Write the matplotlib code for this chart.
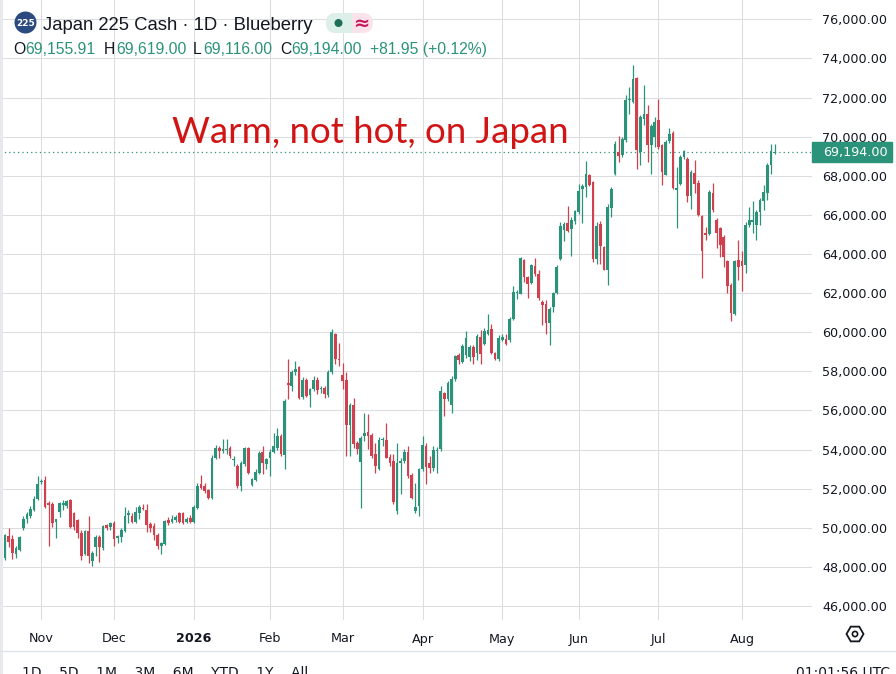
import matplotlib
matplotlib.use('Agg')
import matplotlib.pyplot as plt
import matplotlib.transforms as mtransforms
from matplotlib.patches import Circle, FancyBboxPatch, Rectangle, RegularPolygon
import numpy as np
import pandas as pd

# daily candles, 20 Oct 2025 .. 14 Aug 2026
opens = [48440, 49580, 49400, 48660, 48860, 49970, 50420, 50590, 50900, 51490,
         52350, 52420, 51270, 51190, 50290, 50810, 51150, 51100, 51400, 50730,
         50390, 49750, 48660, 49830, 48300, 49000, 49510, 48950, 50120, 50050,
         50250, 49460, 49540, 49850, 50640, 50590, 50300, 50760, 51000, 50930,
         50190, 50080, 49630, 49070, 49170, 50390, 50300, 50390, 50730, 50730,
         50300, 50520, 50300, 51000, 52220, 52130, 51930, 51540, 53580, 54090,
         53940, 53980, 54090, 53480, 53160, 52140, 53240, 54090, 52170, 52440,
         52820, 53870, 53240, 53580, 53870, 54090, 54690, 53700, 57410, 57240,
         57960, 58210, 56690, 57580, 56770, 57070, 57580, 57070, 57160, 56770,
         57960, 59930, 58620, 57790, 57580, 55230, 56300, 54350, 53360, 54690,
         54900, 54720, 53750, 52990, 54470, 54490, 53630, 53410, 50860, 53290,
         53410, 53870, 52680, 50860, 51120, 52990, 54180, 53290, 53070, 53920,
         54010, 56870, 56560, 56300, 57620, 58810, 58470, 58810, 58750, 59220,
         58920, 59760, 59420, 59930, 60140, 58950, 58610, 59590, 59630, 59590,
         60650, 62000, 61970, 63670, 62820, 62520, 63370, 62990, 61550, 61460,
         60480, 61290, 62010, 63750, 65230, 65570, 65280, 65680, 66130, 67320,
         67410, 68050, 67660, 63750, 65540, 64380, 63160, 66340, 68100, 69210,
         69040, 69810, 71860, 71780, 73010, 69210, 70920, 71180, 69550, 69970,
         70840, 69550, 68050, 69760, 70200, 67280, 67590, 68960, 68840, 66990,
         68150, 67650, 65950, 65060, 65030, 67140, 65740, 65320, 64890, 63620,
         62430, 60950, 63700, 63620, 63450, 65490, 65660, 65490, 66170, 66730,
         67140, 68550, 69155.91]
highs = [49700, 49970, 49630, 49070, 49580, 50590, 50810, 51100, 51630, 52630,
         52500, 52630, 51350, 51300, 50470, 51320, 51400, 51440, 51490, 50810,
         50470, 49880, 49900, 50590, 48800, 49630, 49630, 50140, 50200, 50300,
         50340, 49630, 49970, 51070, 50930, 50730, 51070, 51150, 51200, 51200,
         50300, 50220, 49710, 49280, 50390, 50560, 50640, 50640, 50810, 50810,
         50560, 50640, 51150, 52300, 52680, 52300, 52000, 53700, 54210, 54180,
         54520, 54520, 54180, 53670, 53240, 53410, 54150, 54120, 52560, 52990,
         53920, 54180, 53580, 54010, 54860, 55110, 54770, 56560, 58640, 58090,
         58520, 58260, 57720, 57670, 57160, 57750, 57720, 57240, 57240, 58050,
         60140, 59960, 59460, 58430, 57960, 56390, 56650, 54430, 54690, 55850,
         55800, 54860, 54350, 54660, 54660, 55370, 53750, 53750, 54310, 53540,
         54010, 54180, 52780, 52310, 53070, 54690, 54350, 53670, 54180, 54110,
         57240, 56940, 57500, 57750, 58850, 58940, 59420, 60050, 59370, 59340,
         59930, 60100, 60190, 60920, 60440, 59000, 59840, 59890, 59890, 60790,
         62350, 62140, 63840, 63750, 62900, 63500, 63810, 63160, 61640, 61640,
         61290, 62060, 63420, 65620, 65620, 66470, 65880, 66250, 67580, 67580,
         68760, 68080, 67750, 65620, 65710, 64430, 66560, 67420, 69760, 70030,
         69980, 72120, 72550, 73690, 73060, 71100, 72630, 71640, 70670, 71010,
         71950, 69640, 69810, 70440, 70280, 68440, 69040, 69340, 68960, 68280,
         68810, 67780, 66000, 65400, 67270, 67620, 65830, 65400, 64980, 63700,
         62510, 63700, 64720, 64130, 65660, 66390, 66730, 66260, 66850, 67530,
         68640, 69640, 69619]
lows = [48350, 49000, 48390, 48440, 48800, 49900, 50220, 50500, 50850, 51400,
        52250, 51000, 49070, 50050, 49460, 50560, 50900, 51000, 49970, 49880,
        49460, 48360, 48600, 48190, 48020, 48530, 48270, 48860, 49900, 49880,
        49070, 49200, 49290, 49800, 50230, 50220, 50220, 50470, 50900, 49800,
        49800, 49370, 48900, 48660, 49120, 50140, 50220, 50300, 50220, 50180,
        50220, 50220, 50220, 50950, 51970, 51800, 51450, 51450, 53520, 53580,
        53800, 53750, 53580, 53160, 52050, 51880, 53160, 52730, 52140, 52390,
        52730, 52730, 52990, 52650, 53840, 54000, 53670, 52990, 56560, 56990,
        57830, 56560, 56560, 56690, 56180, 57000, 56820, 56900, 56650, 56690,
        57880, 58350, 58260, 57070, 53670, 53670, 54090, 53760, 51030, 54430,
        54010, 53580, 52780, 52950, 54180, 53540, 53160, 51200, 50690, 51710,
        53330, 52560, 51460, 50740, 50600, 52900, 52220, 52820, 52900, 52820,
        53920, 55710, 56470, 55880, 57500, 58350, 58430, 58690, 58520, 58370,
        58580, 58370, 59340, 59840, 58880, 58580, 58540, 59550, 59340, 59500,
        60620, 61720, 61940, 62570, 61770, 62460, 62900, 61670, 60360, 59930,
        59340, 61040, 61970, 63710, 64690, 65150, 63920, 65540, 66050, 65570,
        66890, 67490, 63580, 63500, 63500, 63160, 62400, 65880, 68050, 68730,
        68960, 69730, 71180, 71700, 68360, 68530, 70580, 68700, 68100, 69460,
        69380, 67540, 68020, 69680, 67300, 65310, 67540, 68880, 66650, 66310,
        67100, 65920, 62770, 64720, 64980, 66170, 64300, 63870, 63360, 62000,
        60550, 60890, 62690, 62090, 63020, 65400, 65060, 64720, 65490, 66260,
        66770, 68090, 69116]
closes = [49630, 49290, 48700, 48950, 49510, 50470, 50680, 50980, 51490, 52250,
          52400, 51070, 51150, 50250, 50420, 51270, 51270, 51370, 50050, 50050,
          49750, 48530, 49830, 48530, 48700, 49510, 49000, 50080, 50000, 50220,
          49410, 49580, 49880, 50590, 50760, 50300, 50810, 51070, 50950, 50140,
          49970, 49630, 49070, 49200, 50340, 50220, 50470, 50560, 50300, 50220,
          50470, 50300, 51070, 52150, 52050, 51880, 51540, 53580, 54090, 53920,
          54020, 54040, 53670, 53520, 52140, 53290, 54090, 52820, 52510, 52850,
          53840, 53330, 53500, 53870, 54180, 54690, 53750, 56480, 57280, 57960,
          58130, 56650, 57530, 56730, 57070, 57580, 57040, 57160, 56820, 57960,
          60000, 58640, 58570, 57500, 55230, 56300, 54260, 54010, 54600, 54860,
          54690, 53670, 53160, 54490, 54520, 53580, 53290, 51290, 53290, 53410,
          53870, 52650, 51540, 51080, 52990, 54210, 53120, 53070, 53980, 53980,
          56990, 56560, 57410, 57620, 58770, 58570, 59290, 59710, 59250, 58750,
          59800, 58880, 60070, 60100, 58920, 58610, 59680, 59760, 59420, 60700,
          62060, 62060, 63810, 62820, 62480, 63420, 62990, 61770, 61380, 60480,
          61210, 62010, 63330, 65450, 65540, 65200, 65740, 66180, 67240, 67490,
          68080, 67540, 63750, 65450, 64430, 63190, 66390, 67330, 69640, 69010,
          69900, 71860, 71950, 72970, 69300, 71010, 71180, 69550, 70550, 70750,
          69470, 68190, 69720, 70150, 67370, 67370, 68960, 69250, 66990, 68190,
          67590, 66000, 64130, 64980, 67190, 66260, 65060, 64470, 63870, 62340,
          60980, 63620, 63360, 63400, 65490, 65740, 65740, 66170, 66770, 67190,
          68550, 69250, 69194]

dates = pd.bdate_range('2025-10-20', '2026-08-14')
dates = dates[~dates.isin(pd.to_datetime(['2025-12-25', '2026-01-01']))]
month_labels = ['Nov', 'Dec', '2026', 'Feb', 'Mar', 'Apr', 'May', 'Jun', 'Jul', 'Aug']
price_ticks = np.arange(46000, 76001, 2000)

header_title = 'Japan 225 Cash \u00b7 1D \u00b7 Blueberry'
ohlc_letters = ['O', 'H', 'L', 'C']
ohlc_values = ['69,155.91', '69,619.00', '69,116.00', '69,194.00']
change_text = '+81.95 (+0.12%)'
note = 'Warm, not hot, on Japan'

UP = '#2b937a'
DOWN = '#d0404e'
GRID = '#dcdde0'
INK = '#131722'
W, H = 896, 674

o = np.array(opens)
h = np.array(highs)
l = np.array(lows)
c = np.array(closes)
idx = np.arange(len(c))
colors = np.where(c >= o, UP, DOWN)

fig = plt.figure(figsize=(W / 100, H / 100), dpi=100)
ax = fig.add_axes([0, 54 / H, 812 / W, 620 / H])
ax.set_xlim(-1.4, 222.3)
ax.set_ylim(45279, 76992)
for s in ax.spines.values():
    s.set_visible(False)

ax.set_yticks(price_ticks)
ax.set_yticklabels([f'{v:,.2f}' for v in price_ticks])
ax.yaxis.tick_right()
month_starts = [i for i in range(1, len(dates)) if dates[i].month != dates[i - 1].month]
ax.set_xticks(month_starts)
ax.set_xticklabels(month_labels)
ax.tick_params(length=0, labelsize=9.2, labelcolor=INK)
ax.tick_params(axis='y', pad=7.3)
ax.tick_params(axis='x', pad=9)
ax.get_xticklabels()[2].set_fontweight('bold')
ax.grid(True, color=GRID, linewidth=0.75)
ax.set_axisbelow(True)

# candles
body_lo = np.minimum(o, c)
body_h = np.maximum(np.abs(c - o), 55)
ax.vlines(idx, l, h, colors=colors, linewidth=0.9, zorder=2)
ax.bar(idx, body_h, bottom=body_lo, width=0.74, color=colors, linewidth=0, zorder=3)

# last price line + tag
ax.axhline(c[-1], color=UP, linewidth=0.9, linestyle=(0, (1, 2.5)), zorder=1)
trans = mtransforms.blended_transform_factory(ax.transAxes, ax.transData)
tag_h = 20 / 620 * (76992 - 45279)
ax.add_patch(Rectangle((1.0, c[-1] - tag_h / 2), 80 / 812, tag_h, transform=trans,
                       color=UP, clip_on=False, zorder=5))
ax.text(1 + 10.7 / 812, c[-1], f'{c[-1]:,.2f}', transform=trans, color='white',
        fontsize=9.2, va='center', ha='left', clip_on=False, zorder=6)

# overlay in pixel coordinates for the header and chrome
ov = fig.add_axes([0, 0, 1, 1], zorder=10)
ov.set_xlim(0, W)
ov.set_ylim(H, 0)
ov.axis('off')

ov.add_patch(Rectangle((0, 0), 3, H, color='#e8e9ec', lw=0))

ov.add_patch(Circle((25.5, 22.5), 11, color='#2a4a80', lw=0))
ov.text(25.5, 23, '225', color='white', fontsize=6.5, fontweight='bold', ha='center', va='center')
ov.text(43, 30, header_title, fontsize=13.3, family='Liberation Sans', color=INK, va='baseline')

ov.add_patch(FancyBboxPatch((326, 13), 47, 20, boxstyle='round,pad=0,rounding_size=10',
                            fc='#fbe3eb', ec='none'))
ov.add_patch(FancyBboxPatch((326, 13), 26, 20, boxstyle='round,pad=0,rounding_size=10',
                            fc='#dcefe8', ec='none'))
ov.add_patch(Rectangle((340, 13), 12, 20, fc='#dcefe8', ec='none'))
ov.add_patch(Circle((338.5, 23), 4, color='#1f6f58', lw=0))
ov.text(362, 23.5, '\u2248', color='#c2185b', fontsize=14, fontweight='bold', ha='center', va='center')

letter_x = [13, 104, 193, 280]
value_x = [25, 116, 203, 291]
for lx, vx, letter, val in zip(letter_x, value_x, ohlc_letters, ohlc_values):
    ov.text(lx, 54, letter, fontsize=11.3, family='Liberation Sans', color=INK, va='baseline')
    ov.text(vx, 54, val, fontsize=11.3, family='Liberation Sans', color=UP, va='baseline')
ov.text(370, 54, change_text, fontsize=11.3, family='Liberation Sans', color=UP, va='baseline')

ov.text(172, 143, note, color='#d11414', fontsize=26.4, family='Lato', va='baseline')

# gear icon, separator, bottom toolbar (cut at the lower edge as in the screenshot)
ov.add_patch(RegularPolygon((855, 634), 6, radius=8.5, orientation=np.pi / 6,
                            fill=False, ec=INK, lw=1.3))
ov.add_patch(Circle((855, 634), 2.6, fill=False, ec=INK, lw=1.2))
ov.plot([0, W], [651, 651], color='#e0e3eb', lw=1)
ov.text(22, 666, '1D    5D    1M    3M    6M    YTD    1Y    All', fontsize=10, color=INK, va='top')
ov.text(890, 666, '01:01:56 UTC', fontsize=10, color=INK, va='top', ha='right')

fig.savefig('out.png', dpi=100)
